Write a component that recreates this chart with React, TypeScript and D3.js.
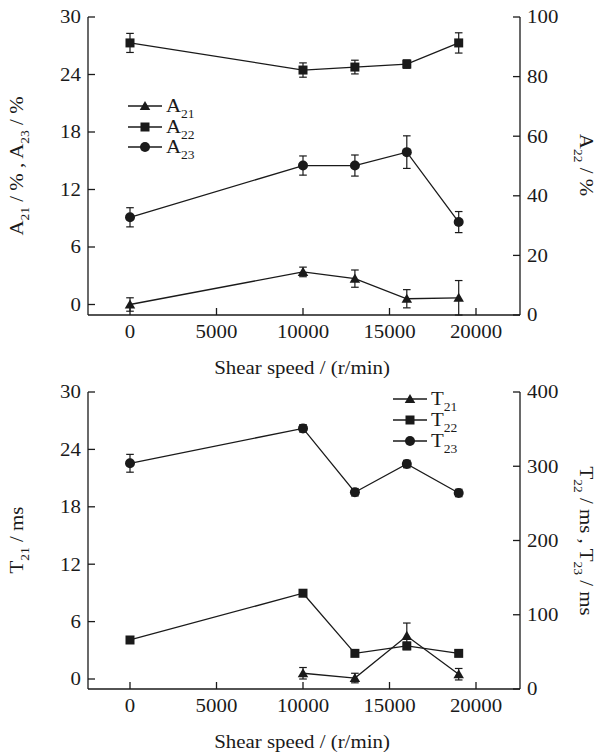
import React from "react";
import * as d3 from "d3";

const speeds = [0, 10000, 13000, 16000, 19000];
const speedsT21 = [10000, 13000, 16000, 19000];
const xTicks = [0, 5000, 10000, 15000, 20000];

const A21 = [0, 3.4, 2.7, 0.6, 0.7];
const A21err = [0.7, 0.5, 0.9, 0.95, 1.8];
const A22 = [91.3, 82.2, 83.2, 84.2, 91.3];
const A22err = [3.2, 2.4, 2.3, 1.4, 3.4];
const A23 = [9.1, 14.5, 14.5, 15.9, 8.6];
const A23err = [1.0, 1.0, 1.1, 1.7, 1.1];

const T21 = [0.6, 0.1, 4.5, 0.5];
const T21err = [0.6, 0.5, 1.35, 0.6];
const T22 = [66, 129, 48, 58, 48];
const T22err = [4, 4, 4, 5, 4];
const T23 = [304, 351, 265, 303, 264];
const T23err = [12, 5, 5, 5, 5];

const leftTicks = [0, 6, 12, 18, 24, 30];
const rightTopTicks = [0, 20, 40, 60, 80, 100];
const rightBotTicks = [0, 100, 200, 300, 400];

const FONT = "'Liberation Serif', 'DejaVu Serif', serif";
const C = "#1a1a1a";
const FS = 18.5;
const SX = 1.13;

type Sc = d3.ScaleLinear<number, number>;

function Txt({ x, y, anchor = "start", rot = 0, children }: { x: number; y: number; anchor?: string; rot?: number; children: React.ReactNode }) {
  return (
    <g transform={`translate(${x},${y}) rotate(${rot}) scale(${SX},1)`}>
      <text x={0} y={0} dy="0.35em" textAnchor={anchor} fontSize={FS} fontFamily={FONT} fill={C} stroke="none">
        {children}
      </text>
    </g>
  );
}

function Marker({ type, x, y }: { type: string; x: number; y: number }) {
  if (type === "sq") return <rect x={x - 4.5} y={y - 4.5} width={9} height={9} fill={C} />;
  if (type === "ci") return <circle cx={x} cy={y} r={5} fill={C} />;
  const s = d3.symbol().type(d3.symbolTriangle).size(48)();
  return <path d={s as string} transform={`translate(${x},${y + 1})`} fill={C} />;
}

function Series({ xs, ys, es, x, y, type }: { xs: number[]; ys: number[]; es: number[]; x: Sc; y: Sc; type: string }) {
  const line = d3.line<number>().x((_, i) => x(xs[i])).y((d) => y(d));
  return (
    <g>
      <path d={line(ys) as string} fill="none" stroke={C} strokeWidth={1.3} />
      {ys.map((v, i) => {
        const px = x(xs[i]);
        const y1 = y(v + es[i]);
        const y2 = y(v - es[i]);
        return (
          <g key={i}>
            <line x1={px} x2={px} y1={y1} y2={y2} stroke={C} strokeWidth={1.2} />
            <line x1={px - 3.8} x2={px + 3.8} y1={y1} y2={y1} stroke={C} strokeWidth={1.2} />
            <line x1={px - 3.8} x2={px + 3.8} y1={y2} y2={y2} stroke={C} strokeWidth={1.2} />
            <Marker type={type} x={px} y={y(v)} />
          </g>
        );
      })}
    </g>
  );
}

function Frame({ top, bottom, x, yl, yr, rTicks }: { top: number; bottom: number; x: Sc; yl: Sc; yr: Sc; rTicks: number[] }) {
  const L = 88, R = 520;
  return (
    <g stroke={C} strokeWidth={1.3}>
      <line x1={L} x2={L} y1={top} y2={bottom} />
      <line x1={R} x2={R} y1={top} y2={bottom} />
      <line x1={L} x2={R} y1={bottom} y2={bottom} />
      {leftTicks.map((t) => (
        <g key={"l" + t}>
          <line x1={L} x2={L + 7} y1={yl(t)} y2={yl(t)} />
          <Txt x={L - 7} y={yl(t)} anchor="end">{t}</Txt>
        </g>
      ))}
      {rTicks.map((t) => (
        <g key={"r" + t}>
          <line x1={R - 7} x2={R} y1={yr(t)} y2={yr(t)} />
          <Txt x={R + 7} y={yr(t)} anchor="start">{t}</Txt>
        </g>
      ))}
      {xTicks.map((t) => (
        <g key={"x" + t}>
          <line x1={x(t)} x2={x(t)} y1={bottom} y2={bottom - 7} />
          <Txt x={x(t)} y={bottom + 17} anchor="middle">{t}</Txt>
        </g>
      ))}
    </g>
  );
}

function LegendRow({ x, y, type, base, sub }: { x: number; y: number; type: string; base: string; sub: string }) {
  return (
    <g>
      <line x1={x} x2={x + 34} y1={y} y2={y} stroke={C} strokeWidth={1.3} />
      <Marker type={type} x={x + 17} y={y} />
      <Txt x={x + 38} y={y}>
        {base}
        <tspan fontSize={12} dy="6">{sub}</tspan>
      </Txt>
    </g>
  );
}

export default function App() {
  const x = d3.scaleLinear().domain([0, 20000]).range([130, 476]);
  const ylTop = d3.scaleLinear().domain([0, 30]).range([304.5, 17]);
  const yrTop = d3.scaleLinear().domain([0, 100]).range([315, 17]);
  const ylBot = d3.scaleLinear().domain([0, 30]).range([679, 392]);
  const yrBot = d3.scaleLinear().domain([0, 400]).range([689, 392]);

  return (
    <svg width={600} height={753} style={{ position: "absolute", left: 0, top: 0, background: "#fff" }}>
      <rect width={600} height={753} fill="#fff" />
      {/* Top chart */}
      <Frame top={17} bottom={315} x={x} yl={ylTop} yr={yrTop} rTicks={rightTopTicks} />
      <Series xs={speeds} ys={A22} es={A22err} x={x} y={yrTop} type="sq" />
      <Series xs={speeds} ys={A23} es={A23err} x={x} y={ylTop} type="ci" />
      <Series xs={speeds} ys={A21} es={A21err} x={x} y={ylTop} type="tri" />
      <LegendRow x={128} y={106} type="tri" base="A" sub="21" />
      <LegendRow x={128} y={127} type="sq" base="A" sub="22" />
      <LegendRow x={128} y={147} type="ci" base="A" sub="23" />
      <Txt x={302} y={368} anchor="middle">Shear speed / (r/min)</Txt>
      <Txt x={17} y={166} anchor="middle" rot={-90}>
        A<tspan fontSize={12} dy="6">21</tspan><tspan dy="-6"> / % , A</tspan><tspan fontSize={12} dy="6">23</tspan><tspan dy="-6"> / %</tspan>
      </Txt>
      <Txt x={586} y={165} anchor="middle" rot={90}>
        A<tspan fontSize={12} dy="6">22</tspan><tspan dy="-6"> / %</tspan>
      </Txt>

      {/* Bottom chart */}
      <Frame top={392} bottom={689} x={x} yl={ylBot} yr={yrBot} rTicks={rightBotTicks} />
      <Series xs={speeds} ys={T23} es={T23err} x={x} y={yrBot} type="ci" />
      <Series xs={speeds} ys={T22} es={T22err} x={x} y={yrBot} type="sq" />
      <Series xs={speedsT21} ys={T21} es={T21err} x={x} y={ylBot} type="tri" />
      <LegendRow x={393} y={399} type="tri" base="T" sub="21" />
      <LegendRow x={393} y={420} type="sq" base="T" sub="22" />
      <LegendRow x={393} y={441} type="ci" base="T" sub="23" />
      <Txt x={302} y={742} anchor="middle">Shear speed / (r/min)</Txt>
      <Txt x={17} y={540} anchor="middle" rot={-90}>
        T<tspan fontSize={12} dy="6">21</tspan><tspan dy="-6"> / ms</tspan>
      </Txt>
      <Txt x={586} y={541} anchor="middle" rot={90}>
        T<tspan fontSize={12} dy="6">22</tspan><tspan dy="-6"> / ms , T</tspan><tspan fontSize={12} dy="6">23</tspan><tspan dy="-6"> / ms</tspan>
      </Txt>
    </svg>
  );
}
